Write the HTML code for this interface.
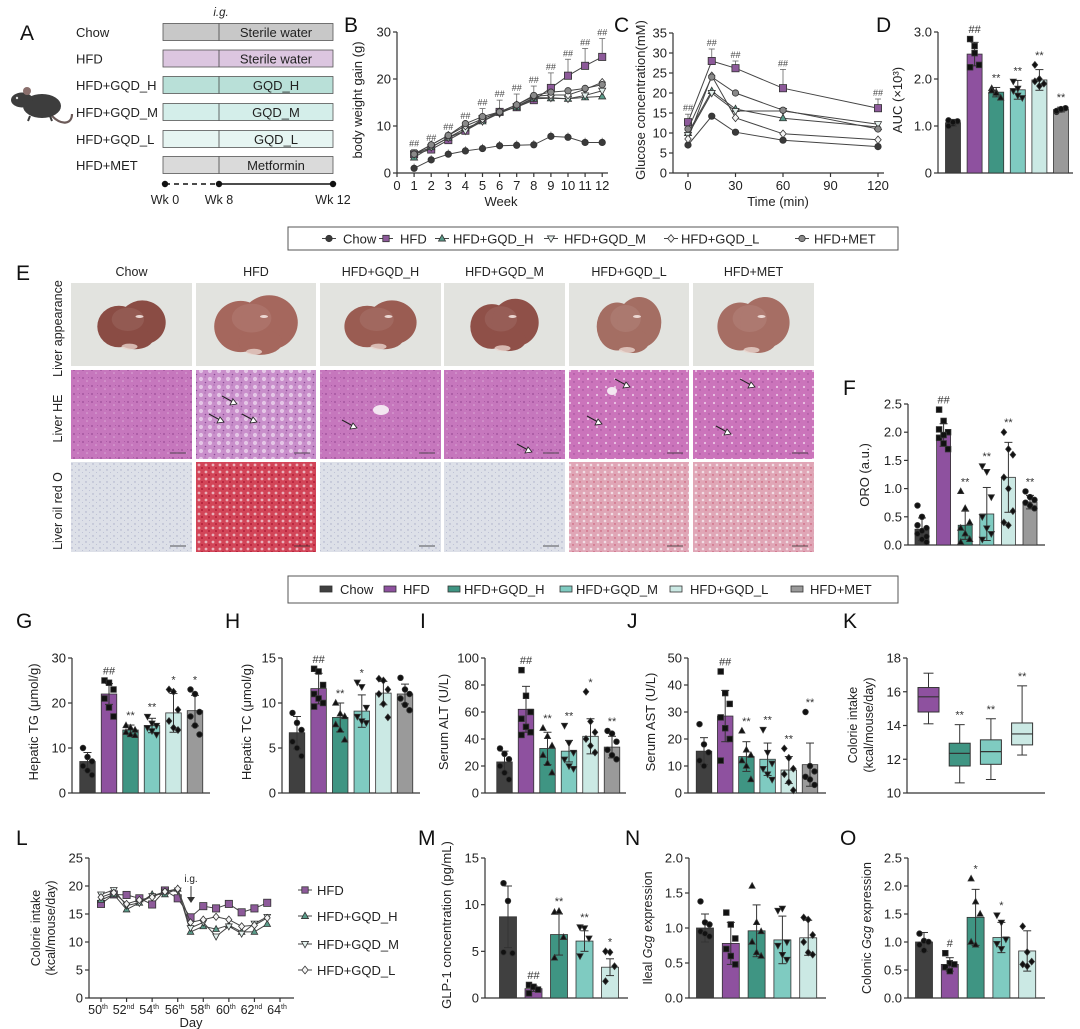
<!DOCTYPE html>
<html><head><meta charset="utf-8">
<style>
html,body{margin:0;padding:0;background:#fff;}
svg{display:block;font-family:"Liberation Sans",Arial,sans-serif;}
</style></head>
<body>
<svg id="fig" width="1080" height="1029" viewBox="0 0 1080 1029" xmlns="http://www.w3.org/2000/svg">
<defs>
  <pattern id="heN" width="9" height="8" patternUnits="userSpaceOnUse"><rect width="9" height="8" fill="#c677bd"/><circle cx="2" cy="2" r="0.9" fill="#9c4c98"/><circle cx="6" cy="5" r="0.8" fill="#dba8d6"/><circle cx="7.5" cy="1.5" r="0.5" fill="#a456a0"/></pattern>
  <pattern id="heF" width="9" height="8" patternUnits="userSpaceOnUse"><rect width="9" height="8" fill="#c98fcb"/><circle cx="3" cy="3" r="2.1" fill="#e4c6e6"/><circle cx="7.5" cy="6.5" r="0.8" fill="#8a4a94"/><circle cx="7" cy="1" r="0.5" fill="#8a4a94"/></pattern>
  <pattern id="heL" width="9" height="8" patternUnits="userSpaceOnUse"><rect width="9" height="8" fill="#cb74bb"/><circle cx="3" cy="3" r="1.1" fill="#ebc6e5"/><circle cx="7" cy="6" r="0.7" fill="#9a4a95"/></pattern>
  <pattern id="oroN" width="7" height="6" patternUnits="userSpaceOnUse"><rect width="7" height="6" fill="#dde0e8"/><circle cx="2" cy="2" r="0.7" fill="#a7abc6"/><circle cx="5.5" cy="4.5" r="0.5" fill="#b5b9d0"/></pattern>
  <pattern id="oroF" width="7" height="7" patternUnits="userSpaceOnUse"><rect width="7" height="7" fill="#d24558"/><circle cx="3" cy="3" r="1.4" fill="#e9b1ba"/><circle cx="6" cy="6" r="1" fill="#b21d38"/></pattern>
  <pattern id="oroL" width="7" height="7" patternUnits="userSpaceOnUse"><rect width="7" height="7" fill="#e0a6b6"/><circle cx="3" cy="3" r="1.3" fill="#f1dde4"/><circle cx="6" cy="6" r="0.7" fill="#c44a68"/></pattern>
  <radialGradient id="liv" cx="0.45" cy="0.4" r="0.6"><stop offset="0" stop-color="#a66a60"/><stop offset="1" stop-color="#86493f"/></radialGradient>
</defs>
</svg>
<script>
const svg=document.getElementById('fig');
const NS='http://www.w3.org/2000/svg';
function el(tag,attrs,parent){const e=document.createElementNS(NS,tag);for(const k in attrs)e.setAttribute(k,attrs[k]);(parent||svg).appendChild(e);return e;}
function txt(s,x,y,o,parent){o=o||{};const t=el('text',{x:x,y:y,'font-size':o.fs||12,fill:o.fill||'#222','text-anchor':o.anchor||'middle'},parent);if(o.rot)t.setAttribute('transform','rotate(-90 '+x+' '+y+')');if(o.style)t.setAttribute('font-style',o.style);t.textContent=s;return t;}
function ln(x1,y1,x2,y2,parent,c,w,dash){const l=el('line',{x1:x1,y1:y1,x2:x2,y2:y2,stroke:c||'#333','stroke-width':w||1},parent);if(dash)l.setAttribute('stroke-dasharray',dash);return l;}
function marker(shape,x,y,s,fill,parent){
  let m;
  if(shape==='circle')m=el('circle',{cx:x,cy:y,r:s},parent);
  else if(shape==='square')m=el('rect',{x:x-s,y:y-s,width:2*s,height:2*s},parent);
  else if(shape==='tri')m=el('polygon',{points:`${x},${y-s*1.2} ${x-s*1.1},${y+s*0.8} ${x+s*1.1},${y+s*0.8}`},parent);
  else if(shape==='itri')m=el('polygon',{points:`${x},${y+s*1.2} ${x-s*1.1},${y-s*0.8} ${x+s*1.1},${y-s*0.8}`},parent);
  else m=el('polygon',{points:`${x},${y-s*1.2} ${x-s},${y} ${x},${y+s*1.2} ${x+s},${y}`},parent);
  m.setAttribute('fill',fill);m.setAttribute('stroke','#333');m.setAttribute('stroke-width',0.8);
  return m;
}
function panelLetter(s,x,y){const t=txt(s,x,y,{fs:21,anchor:'start',fill:'#111'});}

const barColors=['#404040','#8e519f','#3f9583','#7fcbc1','#cbe9e4','#9a9a9a'];
const shapes=['circle','square','tri','itri','diamond','circle'];
const lineFill=['#3a3a3a','#8d5a9a','#5a9c8a','#e4f1ee','#f4f4f4','#8a8a8a'];
const groups=['Chow','HFD','HFD+GQD_H','HFD+GQD_M','HFD+GQD_L','HFD+MET'];

/* ===== Panel A schematic ===== */
const aRows=['Chow','HFD','HFD+GQD_H','HFD+GQD_M','HFD+GQD_L','HFD+MET'];
const aLabels=['Sterile water','Sterile water','GQD_H','GQD_M','GQD_L','Metformin'];
const aFills=['#c8c8c8','#dcc6e0','#b9e0d8','#d4eeea','#e6f5f2','#dadada'];
(function(){
  const g=el('g',{});
  panelLetter('A',20,40);
  const ys=[32,58.5,85,112,139,165];
  aRows.forEach((r,i)=>{
    txt(r,76,ys[i]+5,{anchor:'start',fs:13},g);
    el('rect',{x:163,y:ys[i]-8.5,width:170,height:17,fill:aFills[i],stroke:'#555','stroke-width':0.8},g);
    ln(219,ys[i]-8.5,219,ys[i]+8.5,g,'#444',0.8);
    txt(aLabels[i],276,ys[i]+5,{fs:13},g);
  });
  txt('i.g.',221,16,{fs:11.5,style:'italic'},g);
  ln(165,184,219,184,g,'#111',1.5,'5,4');ln(219,184,333,184,g,'#111',1.5);
  [165,219,333].forEach(x=>el('circle',{cx:x,cy:184,r:3.2,fill:'#111'},g));
  txt('Wk 0',165,204,{fs:12.5},g);txt('Wk 8',219,204,{fs:12.5},g);txt('Wk 12',333,204,{fs:12.5},g);
  const m=el('g',{},g);
  el('path',{d:'M52,116 C62,126 72,124 72,114',fill:'none',stroke:'#6b5a58','stroke-width':2.2},m);
  el('ellipse',{cx:42,cy:106,rx:19,ry:12,fill:'#3d3d3d'},m);
  el('ellipse',{cx:22,cy:100,rx:11,ry:7.5,fill:'#3d3d3d'},m);
  el('circle',{cx:27,cy:91,r:4,fill:'#8a6f6c'},m);
  el('circle',{cx:17,cy:98,r:1.2,fill:'#ddd'},m);
  ln(30,116,28,121,m,'#3d3d3d',2);ln(50,116,52,121,m,'#3d3d3d',2);
})();

function yAxis(g,x,yb,yt,ticks,labels,scale,fs){
  ln(x,yb,x,yt,g,'#333',1.2);
  ticks.forEach((t,i)=>{const y=scale(t);ln(x-4,y,x,y,g,'#333',1.2);txt(labels[i],x-6,y+4.5,{anchor:'end',fs:fs||13},g);});
}

/* ===== Panel B ===== */
const weeks=[1,2,3,4,5,6,7,8,9,10,11,12];
const bChow=[1,2.8,4,4.7,5.2,5.8,5.9,6,7.8,7.6,6.5,6.5];
const bHFD=[4,5,7,9,11.5,13,14,15.5,18.1,20.7,22.8,24.7];
const bGQDH=[3.3,5.5,7.5,9.5,11,13,14,15.8,15.9,15.8,16.1,16.3];
const bGQDM=[4,5.5,7.5,9,11,12.7,14.2,16,16,15.8,16.5,17.5];
const bGQDL=[4,6,8,10,11.5,13,14.5,16.3,16.6,16.6,17.8,19.3];
const bMET=[4,6,8,10.5,12,13,14.5,16.5,17.2,17.5,18,18.8];
const bErrHFD=[1,1.2,1.5,1.8,2.2,2.5,2.8,3,3.2,3.5,3.7,3.9];
const bTicks=[0,10,20,30];
const bXTicks=[0,1,2,3,4,5,6,7,8,9,10,11,12];
const bSig=['##','##','##','##','##','##','##','##','##','##','##','##'];
(function(){
  const g=el('g',{});
  panelLetter('B',344,32);
  const X=w=>397+w*17.1, Y=v=>173-v*4.7;
  yAxis(g,397,173,Y(30),bTicks,bTicks.map(String),Y);
  ln(397,173,608,173,g,'#333',1.2);
  bXTicks.forEach(w=>{ln(X(w),173,X(w),177,g,'#333',1.2);txt(String(w),X(w),190,{fs:13},g);});
  txt('Week',501,206,{fs:13},g);
  txt('body weight gain (g)',362,100,{fs:13,rot:true},g);
  [bChow,bHFD,bGQDH,bGQDM,bGQDL,bMET].forEach((s,k)=>{
    const sg=el('g',{},g);
    el('polyline',{points:s.map((v,i)=>X(weeks[i])+','+Y(v)).join(' '),fill:'none',stroke:'#444','stroke-width':1},sg);
    s.forEach((v,i)=>{
      if(k===1){ln(X(weeks[i]),Y(v),X(weeks[i]),Y(v+bErrHFD[i]),sg,'#666',0.8);ln(X(weeks[i])-3,Y(v+bErrHFD[i]),X(weeks[i])+3,Y(v+bErrHFD[i]),sg,'#666',0.8);
        txt(bSig[i],X(weeks[i]),Y(v+bErrHFD[i])-3,{fs:9,fill:'#444'},sg);}
      if(k===0){ln(X(weeks[i]),Y(v),X(weeks[i]),Y(v+1),sg,'#666',0.8);}
      marker(shapes[k],X(weeks[i]),Y(v),k===1?3.6:3.2,lineFill[k],sg);
    });
  });
})();

/* ===== Panel C ===== */
const cTimes=[0,15,30,60,120];
const cChow=[7,14.2,10.2,8.2,6.6];
const cHFD=[12.7,28,26.2,21.2,16.2];
const cGQDH=[10,20.5,16,13.7,11.5];
const cGQDM=[9.5,20,15.5,15.5,12.2];
const cGQDL=[8.5,24.3,13.8,9.8,8.3];
const cMET=[11,24,20,15.7,11];
const cErrHFD=[2,3,1.8,4.7,2.3];
const cSig=['##','##','##','##','##'];
const cTicks=[0,5,10,15,20,25,30,35];
const cXTicks=[0,30,60,90,120];
(function(){
  const g=el('g',{});
  panelLetter('C',614,32);
  const X=t=>688+t*(190/120), Y=v=>173-v*4.0;
  yAxis(g,673,173,Y(35),cTicks,cTicks.map(String),Y);
  ln(673,173,884,173,g,'#333',1.2);
  cXTicks.forEach(t=>{ln(X(t),173,X(t),177,g,'#333',1.2);txt(String(t),X(t),190,{fs:13},g);});
  txt('Time (min)',778,206,{fs:13},g);
  txt('Glucose concentration(mM)',645,100,{fs:13,rot:true},g);
  [cChow,cHFD,cGQDH,cGQDM,cGQDL,cMET].forEach((s,k)=>{
    const sg=el('g',{},g);
    el('polyline',{points:s.map((v,i)=>X(cTimes[i])+','+Y(v)).join(' '),fill:'none',stroke:'#444','stroke-width':1},sg);
    s.forEach((v,i)=>{
      if(k===1){const e=Y(v+cErrHFD[i]);ln(X(cTimes[i]),Y(v),X(cTimes[i]),e,sg,'#666',0.8);ln(X(cTimes[i])-3,e,X(cTimes[i])+3,e,sg,'#666',0.8);txt(cSig[i],X(cTimes[i]),e-3,{fs:9,fill:'#444'},sg);}
      marker(shapes[k],X(cTimes[i]),Y(v),k===1?3.6:3.2,lineFill[k],sg);
    });
  });
})();

function barChart(cfg){
  const g=el('g',{});
  const vmin=cfg.vmin||0;
  const Y=v=>cfg.y0-(v-vmin)/(cfg.vmax-vmin)*(cfg.y0-cfg.yTop);
  yAxis(g,cfg.ax,cfg.y0,cfg.yTop,cfg.ticks,cfg.tickLabels,Y,cfg.fs);
  ln(cfg.ax,cfg.y0,cfg.axEnd,cfg.y0,g,'#333',1.2);
  const bw=cfg.bw||15;
  cfg.vals.forEach((v,i)=>{
    const cx=cfg.start+i*cfg.step;const col=i;
    const bar=el('rect',{x:cx-bw/2,y:Y(v),width:bw,height:cfg.y0-Y(v),fill:barColors[col],stroke:'#333','stroke-width':0.8},g);
    
    
    const e=cfg.errs[i];
    ln(cx,Y(v-e),cx,Y(v+e),g,'#333',1);ln(cx-4,Y(v+e),cx+4,Y(v+e),g,'#333',1);ln(cx-4,Y(v-e),cx+4,Y(v-e),g,'#333',1);
    (cfg.pts[i]||[]).forEach((p,j)=>marker(shapes[col],cx+((j%3)-1)*4.5,Y(p),2.8,'#111',g));
    const top=Math.max(v+e,...(cfg.pts[i]||[v]));
    if(cfg.sig[i])txt(cfg.sig[i],cx,Y(top)-6,{fs:11,fill:'#333'},g);
  });
  if(cfg.title){txt(cfg.title,cfg.tx,cfg.ty,{fs:13,rot:true},g);}
  return g;
}

/* D */
const dVals=[1.07,2.53,1.72,1.77,1.98,1.35];
const dErrs=[0.07,0.25,0.1,0.2,0.22,0.05];
const dPts=[[1.0,1.05,1.1,1.12,1.08],[2.85,2.7,2.3,2.25,2.55],[1.8,1.72,1.6,1.75,1.7],[1.95,1.8,1.6,1.75,1.65],[2.3,2.0,1.9,1.95,1.85],[1.3,1.35,1.38,1.32,1.36]];
const dSig=['','##','**','**','**','**'];
const dTicks=[0,1,2,3];const dTickLabels=['0','1.0','2.0','3.0'];
panelLetter('D',876,32);
barChart({name:'panel-d-auc-chart',ax:938,axEnd:1073,y0:173,yTop:32,vmax:3,ticks:dTicks,tickLabels:dTickLabels,start:953,step:21.6,bw:15,vals:dVals,errs:dErrs,pts:dPts,sig:dSig});
txt('AUC (×10³)',902,100,{fs:13,rot:true});

(function(){
  const g=el('g',{});
  el('rect',{x:288,y:227,width:610,height:23,fill:'#fff',stroke:'#555','stroke-width':1},g);
  const mx=[329,386,442,551,671,802],tx=[343,400,453,564,681,814];
  groups.forEach((n,i)=>{const eg=el('g',{},g);
    ln(mx[i]-7,238.5,mx[i]+7,238.5,eg,'#444',1);marker(shapes[i],mx[i],238.5,3.2,lineFill[i],eg);txt(n,tx[i],243.5,{anchor:'start',fs:13},eg);});
})();

/* ===== Panel E ===== */
const eCols=[[71,192],[196,316],[320,441],[444,565],[569,689],[693,814]];
const eRows=[[283,366],[370,459],[462,552]];
const eHE=['url(#heN)','url(#heF)','url(#heN)','url(#heN)','url(#heL)','url(#heL)'];
const eORO=['url(#oroN)','url(#oroF)','url(#oroN)','url(#oroN)','url(#oroL)','url(#oroL)'];
const eLiverSize=[[36,26],[44,32],[38,26],[36,28],[34,30],[38,30]];
const eLiverCol=['#8a4c44','#a5675d','#9a5c52','#8f5048','#a46e63','#a66e64'];
(function(){
  const g=el('g',{});
  panelLetter('E',16,280);
  groups.forEach((n,i)=>txt(n,(eCols[i][0]+eCols[i][1])/2,276,{fs:12.5},g));
  ['Liver appearance','Liver HE','Liver oil red O'].forEach((n,r)=>txt(n,62,(eRows[r][0]+eRows[r][1])/2+4,{fs:12.5,rot:true},g));
  eCols.forEach((c,i)=>{
    const w=c[1]-c[0];
    const cg=el('g',{},g);
    el('rect',{x:c[0],y:eRows[0][0],width:w,height:eRows[0][1]-eRows[0][0],fill:'#e2e3df'},cg);
    const cx=c[0]+w/2,cy=(eRows[0][0]+eRows[0][1])/2;
    const rx=eLiverSize[i][0],ry=eLiverSize[i][1],col=eLiverCol[i];
    el('ellipse',{cx:cx-rx*0.35,cy:cy+2,rx:rx*0.6,ry:ry*0.8,fill:col},cg);
    el('ellipse',{cx:cx+rx*0.3,cy:cy-2,rx:rx*0.65,ry:ry*0.85,fill:col},cg);
    el('ellipse',{cx:cx+rx*0.1,cy:cy+ry*0.55,rx:rx*0.5,ry:ry*0.4,fill:col},cg);
    el('ellipse',{cx:cx-rx*0.1,cy:cy-ry*0.2,rx:rx*0.45,ry:ry*0.45,fill:'#ffffff',opacity:0.08},cg);
    el('ellipse',{cx:cx+8,cy:cy-8,rx:4,ry:1.5,fill:'#f3e2de',opacity:0.9},cg);
    el('ellipse',{cx:cx-2,cy:cy+ry*0.85,rx:8,ry:3,fill:'#e8d3cc',opacity:0.8},cg);
    const hg=el('g',{},g);
    el('rect',{x:c[0],y:eRows[1][0],width:w,height:eRows[1][1]-eRows[1][0],fill:eHE[i]},hg);
    ln(c[1]-22,eRows[1][1]-6,c[1]-6,eRows[1][1]-6,hg,'#333',0.8);
    const og=el('g',{},g);
    el('rect',{x:c[0],y:eRows[2][0],width:w,height:eRows[2][1]-eRows[2][0],fill:eORO[i]},og);
    ln(c[1]-22,eRows[2][1]-6,c[1]-6,eRows[2][1]-6,og,'#333',0.8);
  });
  el('ellipse',{cx:381,cy:410,rx:8,ry:5,fill:'#f3e6f1'},g);
  el('ellipse',{cx:612,cy:391,rx:5,ry:4,fill:'#f3e6f1'},g);
  const arrows=[[1,235,403],[1,222,421],[1,255,421],[2,355,427],[3,530,451],[4,628,386],[4,600,423],[5,753,386],[5,729,433]];
  arrows.forEach(a=>{const ag=el('g',{},g);
    ln(a[1]-13,a[2]-7,a[1]-2,a[2]-1,ag,'#222',1);
    el('polygon',{points:`${a[1]+2},${a[2]+1} ${a[1]-5},${a[2]+2} ${a[1]-2},${a[2]-4}`,fill:'#fff',stroke:'#222','stroke-width':0.8},ag);});
})();

/* F */
const fVals=[0.28,1.95,0.35,0.55,1.2,0.76];
const fErrs=[0.2,0.2,0.25,0.47,0.62,0.12];
const fPts=[[0.7,0.5,0.3,0.2,0.1,0.05,0.35,0.25,0.15],[2.4,2.2,2.0,1.9,1.8,1.7,2.05,1.95],[0.95,0.65,0.4,0.3,0.2,0.1,0.05],[1.4,1.3,0.85,0.5,0.3,0.2,0.1],[2.0,1.7,1.6,1.2,1.0,0.6,0.4,0.35],[0.95,0.85,0.8,0.75,0.7,0.65]];
const fSig=['','##','**','**','**','**'];
const fTicks=[0,0.5,1,1.5,2,2.5];const fTickLabels=['0.0','0.5','1.0','1.5','2.0','2.5'];
panelLetter('F',843,395);
barChart({name:'panel-f-oro-chart',ax:908,axEnd:1045,y0:545,yTop:404,vmax:2.5,ticks:fTicks,tickLabels:fTickLabels,start:922,step:21.6,bw:14,vals:fVals,errs:fErrs,pts:fPts,sig:fSig,title:'ORO (a.u.)',tx:869,ty:475});

(function(){
  const g=el('g',{});
  el('rect',{x:288,y:576,width:610,height:27,fill:'#fff',stroke:'#555','stroke-width':1},g);
  const mx=[326,390,454,566,676,797],tx=[340,403,464,576,690,810];
  groups.forEach((n,i)=>{const eg=el('g',{},g);
    el('rect',{x:mx[i]-6,y:586,width:12,height:6,fill:barColors[i],stroke:'#333','stroke-width':0.8},eg);txt(n,tx[i],594,{anchor:'start',fs:13},eg);});
})();

/* G */
const gVals=[7,22,14,15,17.8,18.3];
const gErrs=[2,2.3,1.1,1.6,4.3,3.4];
const gPts=[[10,8,7,6,5,4],[25,24.5,23,21,19,17],[15,14.5,14,13.5,13,12.8],[17,15.5,15,14.5,13.8,13],[23,22.5,18.5,16,14.5,14],[23,22,18,17,15,13]];
const gSig=['','##','**','**','*','*'];
const gTicks=[0,10,20,30];
panelLetter('G',16,628);
barChart({name:'panel-g-hepatic-tg-chart',ax:72,axEnd:210,y0:793,yTop:658,vmax:30,ticks:gTicks,tickLabels:gTicks.map(String),start:87.5,step:21.5,bw:15.5,vals:gVals,errs:gErrs,pts:gPts,sig:gSig,title:'Hepatic TG (μmol/g)',tx:38,ty:722});

/* H */
const hVals=[6.7,11.6,8.4,9.1,11.1,11.0];
const hErrs=[1.8,1.7,1.6,1.8,1.3,1.1];
const hPts=[[8.9,7.8,7,5.7,5,4.1],[13.8,13.5,12,11,10.5,10,9.6],[10,8.8,8.5,7.6,7,5.9],[12.3,11.8,9.5,8.5,8,7.8],[12.7,12.5,11.5,11,9.9,8.4],[12.8,11.5,11,10.5,9.8,9.2]];
const hSig=['','##','**','*','',''];
const hTicks=[0,5,10,15];
panelLetter('H',225,628);
barChart({name:'panel-h-hepatic-tc-chart',ax:282,axEnd:420,y0:793,yTop:658,vmax:15,ticks:hTicks,tickLabels:hTicks.map(String),start:297,step:21.6,bw:15.5,vals:hVals,errs:hErrs,pts:hPts,sig:hSig,title:'Hepatic TC (μmol/g)',tx:251,ty:722});

/* I */
const iVals=[23,62,33,31,42,34];
const iErrs=[8,17,12,8,13,8];
const iPts=[[33,29,25,20,15,10],[91,72,60,55,49,45,43],[48,42,35,28,22,15],[50,37,30,25,20,18],[75,53,45,40,35,30],[46,44,38,32,28,25]];
const iSig=['','##','**','**','*','**'];
const iTicks=[0,20,40,60,80,100];
panelLetter('I',420,628);
barChart({name:'panel-i-serum-alt-chart',ax:485,axEnd:626,y0:793,yTop:658,vmax:100,ticks:iTicks,tickLabels:iTicks.map(String),start:504.5,step:21.5,bw:15.5,vals:iVals,errs:iErrs,pts:iPts,sig:iSig,title:'Serum ALT (U/L)',tx:448,ty:722});

/* J */
const jVals=[15.5,28.5,13.5,12.5,8.5,10.5];
const jErrs=[5,9.5,5.5,6,5,8];
const jPts=[[25.5,18,15,12,10],[45,37,33,28,24,20,12],[23,16,14,12,10,5],[23.5,15,11,9,7,5],[16.5,13,9,7,4,1],[30,10,8,6,5,3]];
const jSig=['','##','**','**','**','**'];
const jTicks=[0,10,20,30,40,50];
panelLetter('J',627,628);
barChart({name:'panel-j-serum-ast-chart',ax:688,axEnd:826,y0:793,yTop:658,vmax:50,ticks:jTicks,tickLabels:jTicks.map(String),start:704,step:21.2,bw:15.5,vals:jVals,errs:jErrs,pts:jPts,sig:jSig,title:'Serum AST (U/L)',tx:655,ty:722});

/* K */
const kMin=[14.1,10.6,10.8,12.25];
const kQ1=[14.8,11.6,11.7,12.85];
const kMed=[15.7,12.35,12.45,13.5];
const kQ3=[16.25,12.95,13.15,14.15];
const kMax=[17.1,14.05,14.4,16.35];
const kSig=['','**','**','**'];
const kTicks=[10,12,14,16,18];
(function(){
  panelLetter('K',843,628);
  const g=el('g',{});
  const Y=v=>793-(v-10)/8*(793-658);
  yAxis(g,907,793,658,kTicks,kTicks.map(String),Y);
  ln(907,793,1045,793,g,'#333',1.2);
  kMed.forEach((m,i)=>{
    const cx=928.5+i*31.2,col=i+1,w=21;
    const bg=el('g',{},g);
    ln(cx,Y(kMin[i]),cx,Y(kMax[i]),bg,'#333',1);
    ln(cx-5,Y(kMin[i]),cx+5,Y(kMin[i]),bg,'#333',1);ln(cx-5,Y(kMax[i]),cx+5,Y(kMax[i]),bg,'#333',1);
    el('rect',{x:cx-w/2,y:Y(kQ3[i]),width:w,height:Y(kQ1[i])-Y(kQ3[i]),fill:barColors[col],stroke:'#333','stroke-width':1},bg);
    ln(cx-w/2,Y(m),cx+w/2,Y(m),bg,'#333',1.2);
    if(kSig[i])txt(kSig[i],cx,Y(kMax[i])-6,{fs:11,fill:'#333'},bg);
  });
  txt('Colorie intake',857,725,{fs:12.5,rot:true},g);
  txt('(kcal/mouse/day)',873,725,{fs:12.5,rot:true},g);
})();

/* L */
const lDays=[50,51,52,53,54,55,56,57,58,59,60,61,62,63];
const lHFD=[16.8,18.5,18.4,17.8,16.7,19.2,17.8,14.4,16.4,16,16.8,15.3,16,17];
const lGQDH=[17.5,18.5,15.8,17,18.5,18.5,19.5,11.8,12.8,12.3,13,11.8,11.8,13.2];
const lGQDM=[18.5,19.3,16.5,17,18.2,19,19.2,12.5,13.5,11,12.8,11.5,13.3,14.5];
const lGQDL=[18,18.8,16.8,17.5,18,19,19.5,13.5,14,14.5,14,12.8,13,14.3];
const lTicks=[0,5,10,15,20,25];
const lXTicks=[50,52,54,56,58,60,62,64];
const lXSup=['th','nd','th','th','th','th','nd','th'];
(function(){
  panelLetter('L',16,845);
  const g=el('g',{});
  const X=d=>101+(d-50)*(179/14), Y=v=>998-v*5.6;
  yAxis(g,89,998,Y(25),lTicks,lTicks.map(String),Y);
  ln(89,998,294,998,g,'#333',1.2);
  lXTicks.forEach((d,i)=>{ln(X(d),998,X(d),1002,g,'#333',1.2);
    const t=txt('',X(d)-3,1014,{fs:12.5},g);t.textContent=String(d);
    const s=el('tspan',{'font-size':7,dy:-5},t);s.textContent=lXSup[i];});
  txt('Day',191,1027,{fs:13},g);
  txt('Colorie intake',40,928,{fs:12.5,rot:true},g);
  txt('(kcal/mouse/day)',55,928,{fs:12.5,rot:true},g);
  txt('i.g.',191,882,{fs:10},g);
  ln(191,886,191,900,g,'#333',1);el('polygon',{points:'187,897 195,897 191,903',fill:'#333'},g);
  const ser=[lHFD,lGQDH,lGQDM,lGQDL],idx=[1,2,3,4],ly=[890,916,944,970];
  ser.forEach((s,k)=>{
    const sg=el('g',{},g);
    el('polyline',{points:s.map((v,i)=>X(lDays[i])+','+Y(v)).join(' '),fill:'none',stroke:'#444','stroke-width':1},sg);
    s.forEach((v,i)=>marker(shapes[idx[k]],X(lDays[i]),Y(v),k===0?3.6:3,lineFill[idx[k]],sg));
    const lg=el('g',{},g);
    ln(298,ly[k],312,ly[k],lg,'#444',1);marker(shapes[idx[k]],305,ly[k],3.2,lineFill[idx[k]],lg);txt(groups[idx[k]],317,ly[k]+5,{anchor:'start',fs:13},lg);
  });
})();

/* M */
const mVals=[8.7,1.0,6.8,6.1,3.3];
const mErrs=[3.3,0.3,2.2,1.1,0.9];
const mPts=[[12.3,10.4,4.8,4.9],[1.4,1.2,0.9,0.5],[9.2,9.3,6.5,4.3],[7.6,7.5,6.4,4.5],[5,4.9,3.4,1.8]];
const mSig=['','##','**','**','*'];
const mTicks=[0,5,10,15];
panelLetter('M',418,845);
barChart({name:'panel-m-glp1-chart',ax:485,axEnd:628,y0:998,yTop:858,vmax:15,ticks:mTicks,tickLabels:mTicks.map(String),start:508,step:25.5,bw:17,vals:mVals,errs:mErrs,pts:mPts,sig:mSig,title:'GLP-1 concentration (pg/mL)',tx:451,ty:925});

/* N */
const nVals=[1.0,0.78,0.96,0.83,0.86];
const nErrs=[0.2,0.3,0.37,0.34,0.25];
const nPts=[[1.38,1.08,1.05,0.95,0.92,0.88],[1.22,1.05,0.85,0.7,0.6,0.48],[1.6,1.08,0.95,0.8,0.65,0.6],[1.25,1.28,0.8,0.75,0.62,0.55],[1.15,1.12,0.9,0.8,0.65,0.62]];
const nSig=['','','','',''];
const nTicks=[0,0.5,1,1.5,2];const nTickLabels=['0.0','0.5','1.0','1.5','2.0'];
panelLetter('N',625,845);
barChart({name:'panel-n-ileal-gcg-chart',ax:689,axEnd:826,y0:998,yTop:858,vmax:2,ticks:nTicks,tickLabels:nTickLabels,start:705,step:25.8,bw:17,vals:nVals,errs:nErrs,pts:nPts,sig:nSig});
(function(){const t=txt('',652,928,{fs:12.5,rot:true});
  const a=el('tspan',{},t);a.textContent='Ileal ';const b=el('tspan',{'font-style':'italic'},t);b.textContent='Gcg';const c=el('tspan',{},t);c.textContent=' expression';})();

/* O */
const oVals=[1.0,0.6,1.44,1.08,0.84];
const oErrs=[0.17,0.12,0.5,0.27,0.36];
const oPts=[[1.15,1.02,1.0,0.95,0.85],[0.8,0.62,0.6,0.55,0.48],[2.13,1.72,1.5,1.0,0.95],[1.48,1.35,1.05,0.97,0.88],[1.28,0.82,0.65,0.6,0.57]];
const oSig=['','#','*','*',''];
const oTicks=[0,0.5,1,1.5,2,2.5];const oTickLabels=['0.0','0.5','1.0','1.5','2.0','2.5'];
panelLetter('O',840,845);
barChart({name:'panel-o-colonic-gcg-chart',ax:908,axEnd:1045,y0:998,yTop:858,vmax:2.5,ticks:oTicks,tickLabels:oTickLabels,start:924,step:25.8,bw:17,vals:oVals,errs:oErrs,pts:oPts,sig:oSig});
(function(){const t=txt('',871,928,{fs:12.5,rot:true});
  const a=el('tspan',{},t);a.textContent='Colonic ';const b=el('tspan',{'font-style':'italic'},t);b.textContent='Gcg';const c=el('tspan',{},t);c.textContent=' expression';})();
</script>
</body></html>
